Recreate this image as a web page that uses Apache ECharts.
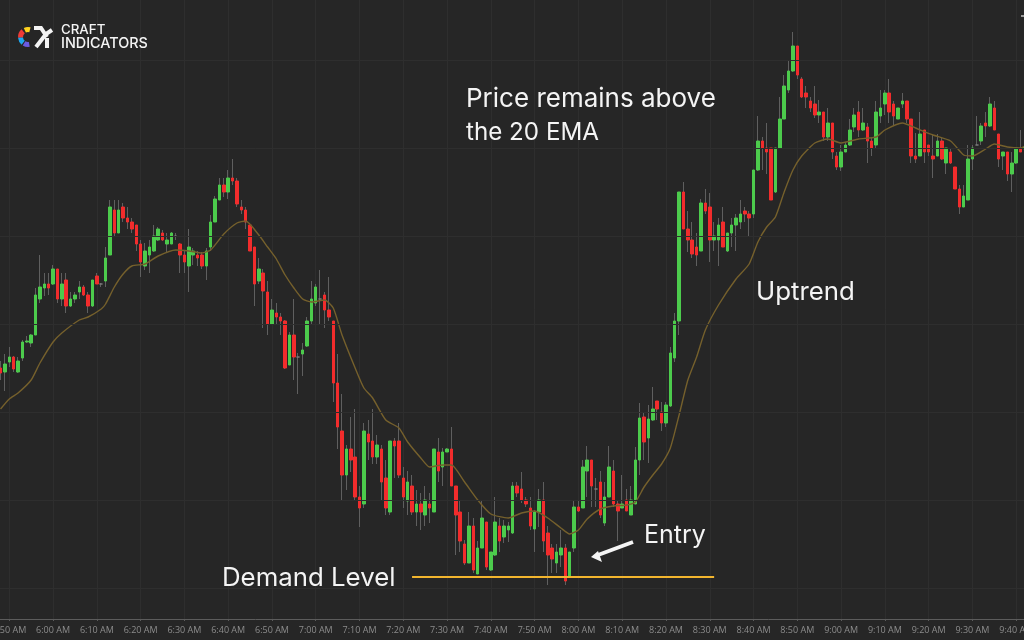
<!DOCTYPE html>
<html>
<head>
<meta charset="utf-8">
<style>html,body{margin:0;padding:0;background:#262626}#c{width:1024px;height:640px}</style>
<script src="https://cdn.jsdelivr.net/npm/echarts@6/dist/echarts.min.js"></script>
</head>
<body>
<div id="c"></div>
<script>
const tickLabels = ['5:50 AM','6:00 AM','6:10 AM','6:20 AM','6:30 AM','6:40 AM','6:50 AM','7:00 AM','7:10 AM','7:20 AM','7:30 AM','7:40 AM','7:50 AM','8:00 AM','8:10 AM','8:20 AM','8:30 AM','8:40 AM','8:50 AM','9:00 AM','9:10 AM','9:20 AM','9:30 AM','9:40 AM'];
const opens = [251,247,257,262,247,261,277,276,284,320,
331,335,335,350,320,339,313,320,327,332,
324,313,343,335,338,364,409,386,412,401,
397,394,375,353,364,368,379,386,375,375,
383,375,364,353,364,364,364,353,372,397,
419,434,427,441,438,412,409,394,372,338,
346,327,295,306,302,298,254,284,262,265,
273,298,316,320,324,309,298,236,188,144,
170,162,122,115,185,178,162,170,141,107,
178,178,141,118,133,107,115,104,115,107,
167,152,167,170,133,107,75,56,93,45,
71,97,49,64,93,82,89,86,133,130,
119,111,90,107,119,86,71,56,64,71,
42,71,112,111,148,159,130,137,96,122,
148,115,111,119,104,115,159,202,181,199,
218,207,196,213,261,298,427,390,379,372,
368,416,412,379,379,397,368,386,394,397,
408,405,405,449,478,471,471,427,471,500,
529,548,573,540,526,518,515,504,507,482,
496,463,452,467,474,492,507,489,492,478,
474,503,515,526,515,500,515,518,500,463,
463,489,474,463,463,478,456,467,452,430,
412,419,460,474,478,496,493,511,485,463,
467,445,456,470,470];
const closes = [246,255,262,250,258,277,278,284,324,332,
335,331,350,320,335,313,320,324,332,324,
313,339,335,335,361,412,386,409,401,397,
390,375,357,368,372,383,390,379,379,386,
383,364,357,372,368,361,353,368,397,420,
434,427,441,438,415,409,397,368,335,350,
328,295,309,302,298,251,284,262,262,269,
298,320,332,320,309,302,236,192,144,170,
159,122,111,188,177,162,174,137,111,178,
173,144,122,137,107,115,107,119,111,170,
148,167,170,133,104,78,56,93,49,71,
101,52,67,97,78,93,93,133,126,119,
115,93,107,119,78,64,60,67,71,38,
67,112,108,152,159,133,130,104,122,152,
115,108,115,108,119,159,201,177,200,210,
210,196,214,266,298,427,390,379,365,364,
416,408,379,383,394,372,386,394,401,405,
405,401,449,478,471,467,419,471,500,533,
548,573,544,522,522,511,504,507,482,496,
467,452,467,474,489,504,489,496,478,471,
507,511,526,507,503,511,518,500,463,460,
485,467,467,460,478,460,471,456,430,412,
423,460,471,474,493,493,515,489,460,467,
445,456,471,467,472];
const highs = [258,265,272,263,262,279,283,285,331,364,
346,346,354,350,346,346,327,327,338,334,
327,339,346,336,372,419,419,419,416,412,
401,394,379,376,379,394,392,389,386,387,
386,376,368,390,371,368,367,371,404,423,
441,441,449,460,441,419,412,394,372,361,
350,338,320,316,306,299,287,320,266,276,
302,338,335,349,327,342,298,265,225,174,
202,210,133,196,199,210,184,174,159,178,
181,196,152,148,144,129,126,133,126,170,
181,171,171,192,133,119,79,107,101,78,
119,97,67,122,101,99,97,137,137,147,
122,122,109,130,137,93,75,75,89,75,
67,119,119,159,173,159,141,148,137,173,
159,119,144,130,133,172,216,207,214,232,
218,217,217,272,306,427,437,408,397,386,
420,430,426,397,401,412,386,401,405,419,
412,408,449,503,482,496,471,471,522,544,
559,587,573,542,533,522,533,519,507,511,
496,467,474,477,500,511,518,511,496,482,
518,529,529,540,518,511,526,518,500,486,
507,489,474,485,485,482,471,471,452,434,
434,474,474,503,496,507,522,518,485,467,
467,467,471,489,500];
const lows = [239,228,252,247,246,258,276,272,284,316,
323,324,334,316,313,306,312,316,320,323,
306,312,335,332,332,364,383,386,397,390,
386,368,342,349,346,367,378,378,367,375,
379,346,346,327,354,353,350,339,368,397,
419,422,420,434,412,405,390,368,313,335,
291,284,294,294,284,250,254,239,225,243,
272,294,313,294,291,298,217,170,118,129,
147,118,92,111,159,155,155,118,104,104,
141,141,111,104,104,93,89,93,96,107,
137,133,167,133,64,67,54,56,46,45,
71,49,48,63,67,76,77,85,122,116,
112,89,67,92,67,34,46,46,52,34,
41,67,107,111,122,112,112,101,93,122,
112,78,111,108,104,115,144,159,156,198,
199,188,192,212,257,284,390,367,361,353,
368,405,357,368,353,372,367,372,368,390,
397,382,401,448,449,445,419,426,470,500,
526,547,540,521,511,507,501,496,478,478,
460,449,448,467,473,487,482,488,456,463,
471,496,504,496,493,500,511,496,456,456,
463,456,463,441,463,459,445,455,430,405,
412,419,449,474,474,482,492,489,452,449,
438,427,455,467,467];
const emaAt = [0,2,4,7,9,12,14,18,20,23,24,26,28,30,33,36,40,43,46,48,51,54,56,59,61,63,65,67,69,71,74,76,78,81,83,85,88,91,93,96,98,101,103,106,109,112,116,119,122,125,128,130,132,134,137,140,143,145,147,149,151,153,155,157,159,161,164,168,171,173,175,177,179,181,183,186,189,192,196,200,202,206,209,213,217,220,222,225,227,230,233,234];
const emaValues = [210,220,226,239,256,277,286,299,302,310,315,332,345,353,355,363,369,368,366,369,385,396,398,384,372,360,344,331,320,317,319,311,284,251,231,221,199,191,177,161,152,154,154,137,119,105,101,106,108,101,91,85,89,100,110,113,114,117,132,144,155,171,204,239,262,289,314,340,355,377,392,402,427,449,463,476,480,476,480,482,489,496,491,484,478,464,463,470,475,472,471,473];
const gridLevels = [31,119,207,295,383,471,559];
const demandLevel = 42;
const demandFrom = 93.8, demandTo = 163.4;

const categories = opens.map((_, i) => {
  const j = (i - 2) / 10;
  return Number.isInteger(j) && tickLabels[j] ? tickLabels[j] : '';
});
const isTick = (i, v) => v !== '';
const emaData = opens.map(() => null);
emaAt.forEach((k, i) => { emaData[k] = emaValues[i]; });
const wickData = opens.map((o, i) => [o, closes[i], lows[i], highs[i]]);
const bodyData = opens.map((o, i) => [o, closes[i], Math.min(o, closes[i]), Math.max(o, closes[i])]);

const FONT = 'Inter, "Open Sans", sans-serif';
const txt = (t, x, y, size, weight) => ({
  type: 'text', x, y, z: 100, silent: true,
  style: { text: t, fill: '#f4f4f4', font: (weight || 400) + ' ' + size + 'px ' + FONT, textVerticalAlign: 'middle', textBaseline: 'middle' }
});
const arc = (a0, a1, col) => ({
  type: 'arc', silent: true, z: 100,
  shape: { cx: 28, cy: 37, r: 7.5, startAngle: a0 * Math.PI / 180, endAngle: a1 * Math.PI / 180 },
  style: { stroke: col, lineWidth: 5, fill: null }
});
const poly = (pts, w) => ({
  type: 'polyline', silent: true, z: 100, shape: { points: pts },
  style: { stroke: '#f4f4f4', lineWidth: w, fill: null, lineCap: 'butt', lineJoin: 'miter' }
});

const chart = echarts.init(document.getElementById('c'), null, { renderer: 'canvas', width: 1024, height: 640 });
chart.setOption({
  animation: false,
  backgroundColor: '#262626',
  grid: { left: -1.65, top: 0, width: 1028.8, height: 619, containLabel: false, outerBoundsMode: 'none' },
  xAxis: {
    type: 'category', data: categories, boundaryGap: true,
    axisLine: { show: true, lineStyle: { color: '#5c5c5c', width: 1 } },
    axisTick: { show: true, interval: isTick, alignWithLabel: true, length: 2, lineStyle: { color: '#5c5c5c' } },
    axisLabel: { show: true, interval: isTick, color: '#8c8c8c', fontSize: 9, fontFamily: '"Open Sans", sans-serif', margin: 7, hideOverlap: false, showMinLabel: true, showMaxLabel: true },
    splitLine: { show: true, interval: isTick, alignWithLabel: true, lineStyle: { color: '#2e2e2e', width: 1 } }
  },
  yAxis: { type: 'value', min: 0, max: 619, show: false, splitLine: { show: false } },
  series: [
    { name: 'levels', type: 'line', data: [], z: 1, silent: true,
      markLine: { silent: true, symbol: 'none', animation: false, label: { show: false },
        lineStyle: { color: '#2e2e2e', width: 1, type: 'solid' },
        data: gridLevels.map(v => ({ yAxis: v })) } },
    { name: 'wicks', type: 'candlestick', data: wickData, barWidth: 1, z: 2, silent: true,
      itemStyle: { color: '#5f5f5f', color0: '#5f5f5f', borderColor: '#5f5f5f', borderColor0: '#5f5f5f', borderColorDoji: '#5f5f5f', borderWidth: 1 } },
    { name: 'bodies', type: 'candlestick', data: bodyData, barWidth: 3, z: 3, silent: true,
      itemStyle: { color: '#4ccb4c', color0: '#f22c2c', borderColor: '#4ccb4c', borderColor0: '#f22c2c', borderColorDoji: '#7a7a7a', borderWidth: 1 } },
    { name: '20 EMA', type: 'line', data: emaData, connectNulls: true, smooth: 0.2, showSymbol: false, z: 4, silent: true,
      lineStyle: { color: '#75602c', width: 1.4 } },
    { name: 'Demand', type: 'line', data: [], z: 5, silent: true,
      markLine: { silent: true, symbol: 'none', animation: false, label: { show: false },
        lineStyle: { color: '#f2b52e', width: 2, type: 'solid' },
        data: [[{ coord: [demandFrom, demandLevel] }, { coord: [demandTo, demandLevel] }]] } }
  ],
  graphic: { elements: [
    txt('Price remains above', 466, 99, 26),
    txt('the 20 EMA', 466, 133, 24.2),
    txt('Uptrend', 756, 292, 25.8),
    txt('Entry', 644, 535, 25),
    txt('Demand Level', 222, 578, 25.8),
    poly([[633, 542], [598, 555]], 4),
    { type: 'polygon', silent: true, z: 100, shape: { points: [[591, 557], [598, 551], [602, 562]] }, style: { fill: '#f4f4f4' } },
    arc(-115, -75, '#ffd21f'), arc(-185, -130, '#ee3b36'), arc(130, 175, '#1ea7f0'), arc(80, 122, '#6a5be2'),
    poly([[34, 28], [41, 28], [47, 37]], 4),
    poly([[36, 47], [46, 34], [52, 30]], 4),
    poly([[47, 38], [47, 48]], 4),
    txt('CRAFT', 61, 30, 13.3, 500),
    txt('INDICATORS', 61, 44, 14.4, 500),
    { type: 'rect', silent: true, z: 100, shape: { x: 1021, y: 15, width: 3, height: 2 }, style: { fill: '#9a9a9a' } }
  ] }
});
</script>
</body>
</html>
